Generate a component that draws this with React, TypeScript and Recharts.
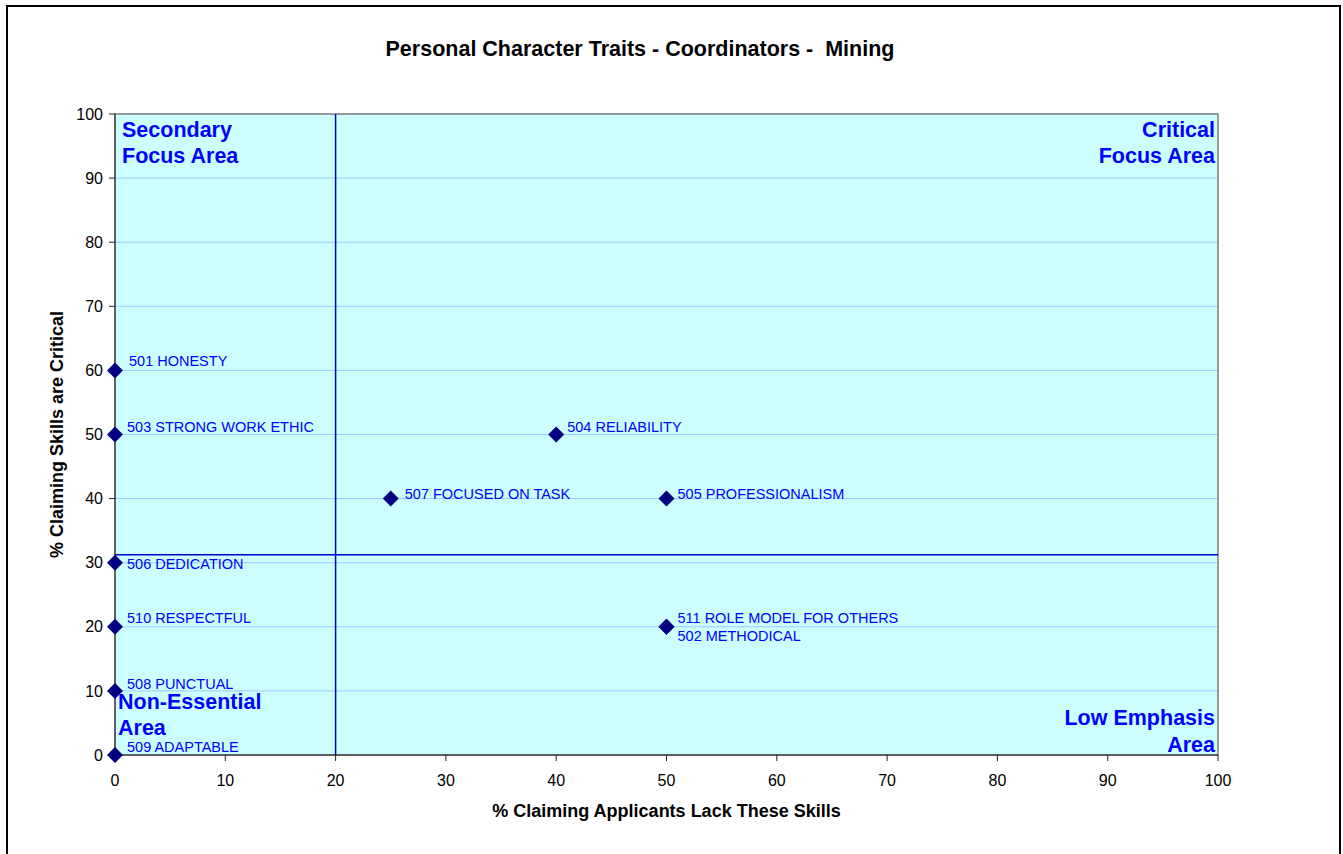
import {
  ScatterChart,
  Scatter,
  XAxis,
  YAxis,
  CartesianGrid,
  ReferenceLine,
  ReferenceArea,
} from 'recharts';

const traitNames = [
  '501 HONESTY',
  '502 METHODICAL',
  '503 STRONG WORK ETHIC',
  '504 RELIABILITY',
  '505 PROFESSIONALISM',
  '506 DEDICATION',
  '507 FOCUSED ON TASK',
  '508 PUNCTUAL',
  '509 ADAPTABLE',
  '510 RESPECTFUL',
  '511 ROLE MODEL FOR OTHERS',
];
const lackPct = [0, 50, 0, 40, 50, 0, 25, 0, 0, 0, 50];
const criticalPct = [60, 20, 50, 50, 40, 30, 40, 10, 0, 20, 20];
const axisTicks = [0, 10, 20, 30, 40, 50, 60, 70, 80, 90, 100];

const lackCutoff = 20;
const criticalCutoff = 31.25;

const FONT = "Arial, 'Liberation Sans', Helvetica, sans-serif";
const LABEL_BLUE = '#0000ff';

// where each point's text sits relative to its diamond
const labelOffsets: Record<string, [number, number]> = {
  '501 HONESTY': [14, -8],
  '502 METHODICAL': [11, 10],
  '503 STRONG WORK ETHIC': [12, -6],
  '504 RELIABILITY': [11, -6],
  '505 PROFESSIONALISM': [11, -3],
  '506 DEDICATION': [12, 2],
  '507 FOCUSED ON TASK': [14, -3],
  '508 PUNCTUAL': [12, -6],
  '509 ADAPTABLE': [12, -7],
  '510 RESPECTFUL': [12, -8],
  '511 ROLE MODEL FOR OTHERS': [11, -8],
};

const points = traitNames.map((name, i) => ({
  name,
  lack: lackPct[i],
  critical: criticalPct[i],
}));

function TraitPoint(props: any) {
  const { cx, cy, payload } = props;
  if (cx == null || cy == null) return null;
  const [dx, dy] = labelOffsets[payload.name] ?? [12, -6];
  const r = 8;
  return (
    <g>
      <polygon
        points={`${cx},${cy - r} ${cx + r},${cy} ${cx},${cy + r} ${cx - r},${cy}`}
        fill="#000080"
      />
      <text
        x={cx + dx}
        y={cy + dy}
        dominantBaseline="middle"
        fontFamily={FONT}
        fontSize={14.5}
        fill={LABEL_BLUE}
      >
        {payload.name}
      </text>
    </g>
  );
}

function QuadrantLabels(props: any) {
  const vb = props.viewBox;
  if (!vb) return null;
  const { x, y, width, height } = vb;
  const left = x + 7;
  const right = x + width - 3;
  const bottom = y + height;
  const style = { fontFamily: FONT, fontSize: 21.5, fontWeight: 700, fill: LABEL_BLUE };
  return (
    <g>
      <text x={left} y={y + 23} style={style}>Secondary</text>
      <text x={left} y={y + 49} style={style}>Focus Area</text>
      <text x={right} y={y + 23} textAnchor="end" style={style}>Critical</text>
      <text x={right} y={y + 49} textAnchor="end" style={style}>Focus Area</text>
      <text x={x + 3} y={bottom - 46} style={style}>Non-Essential</text>
      <text x={x + 3} y={bottom - 20} style={style}>Area</text>
      <text x={right} y={bottom - 30} textAnchor="end" style={style}>Low Emphasis</text>
      <text x={right} y={bottom - 3} textAnchor="end" style={style}>Area</text>
    </g>
  );
}

export default function App() {
  return (
    <div
      style={{
        position: 'absolute',
        left: 0,
        top: 0,
        width: 1343,
        height: 854,
        background: '#fff',
        overflow: 'hidden',
        fontFamily: FONT,
      }}
    >
      <div
        style={{
          position: 'absolute',
          left: 6,
          top: 5,
          width: 1331,
          height: 900,
          border: '2px solid #000',
        }}
      />
      <div
        style={{
          position: 'absolute',
          left: 0,
          top: 37,
          width: 1280,
          textAlign: 'center',
          fontSize: 21.5,
          fontWeight: 700,
          whiteSpace: 'pre',
        }}
      >
        {'Personal Character Traits - Coordinators -  Mining'}
      </div>
      <div style={{ position: 'absolute', left: 0, top: 0 }}>
        <ScatterChart
          width={1343}
          height={854}
          margin={{ top: 114, right: 125, bottom: 69, left: 55 }}
        >
          <CartesianGrid vertical={false} stroke="#99ccff" fill="#ccffff" fillOpacity={1} />
          <XAxis
            type="number"
            dataKey="lack"
            domain={[0, 100]}
            ticks={axisTicks}
            height={30}
            interval={0}
            tick={{ fontSize: 16, fill: '#000', fontFamily: FONT }}
            tickSize={6}
            tickMargin={14}
            axisLine={{ stroke: '#222' }}
            tickLine={{ stroke: '#222' }}
            label={{
              value: '% Claiming Applicants Lack These Skills',
              position: 'bottom',
              offset: 19,
              style: { fontSize: 18, fontWeight: 700, fill: '#000', fontFamily: FONT },
            }}
          />
          <YAxis
            type="number"
            dataKey="critical"
            domain={[0, 100]}
            ticks={axisTicks}
            width={60}
            interval={0}
            tick={{ fontSize: 16, fill: '#000', fontFamily: FONT }}
            tickSize={6}
            tickMargin={6}
            axisLine={{ stroke: '#222' }}
            tickLine={{ stroke: '#222' }}
            label={{
              value: '% Claiming Skills are Critical',
              angle: -90,
              position: 'insideLeft',
              offset: 2,
              style: {
                fontSize: 18,
                fontWeight: 700,
                fill: '#000',
                fontFamily: FONT,
                textAnchor: 'middle',
              },
            }}
          />
          <ReferenceArea
            x1={0}
            x2={100}
            y1={0}
            y2={100}
            fill="none"
            stroke="#808080"
            strokeWidth={1.5}
            label={<QuadrantLabels />}
          />
          <ReferenceLine x={lackCutoff} stroke="#0000cc" strokeWidth={1.5} />
          <ReferenceLine y={criticalCutoff} stroke="#0000cc" strokeWidth={1.5} />
          <Scatter data={points} shape={TraitPoint} isAnimationActive={false} />
        </ScatterChart>
      </div>
    </div>
  );
}
